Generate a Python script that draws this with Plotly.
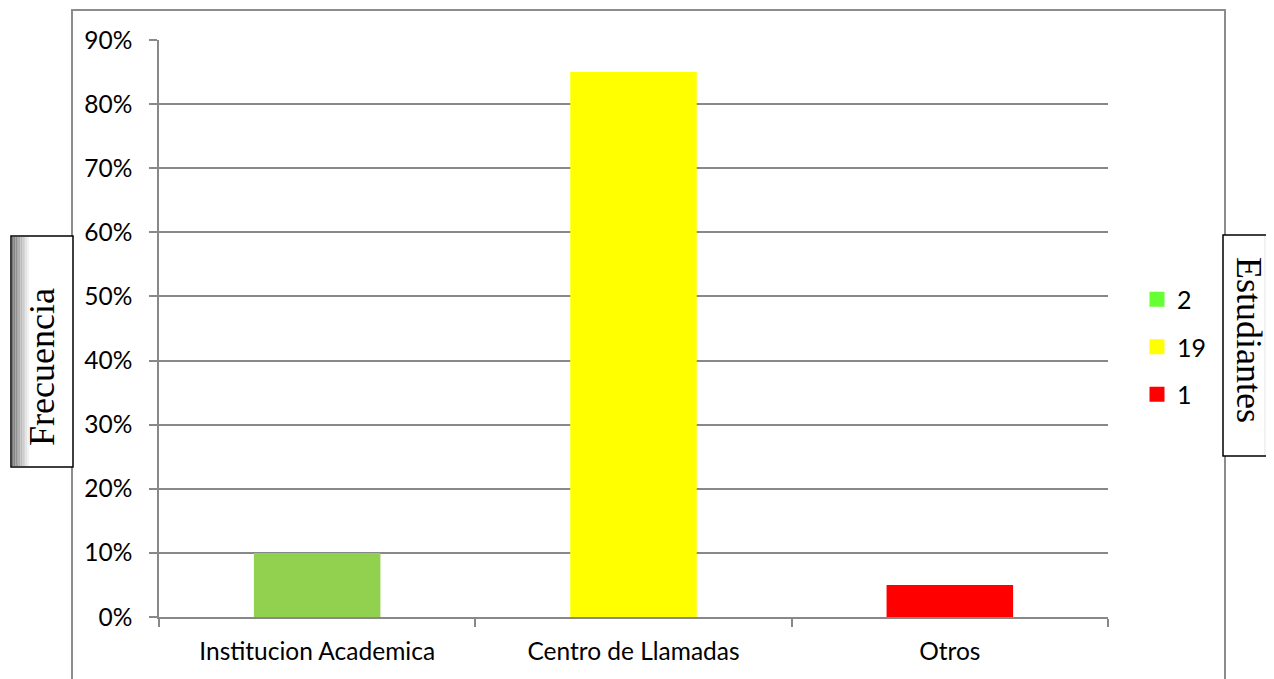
import plotly.graph_objects as go

# Data
categories = ["Institucion Academica", "Centro de Llamadas", "Otros"]
percentages = [0.10, 0.85, 0.05]
counts = ["2", "19", "1"]
bar_colors = ["#92D050", "#FFFF00", "#FF0000"]
legend_colors = ["#66FF33", "#FFFF00", "#FF0000"]

# page body has an 8px margin, so work in screen pixels and shift
OFF = 8
W, H = 1274 - OFF, 679 - OFF
L, R, T, B = 159, 1108, 40, 617


def px(x):
    return (x - L) / (R - L)


def py(y):
    return (B - y) / (B - T)


fig = go.Figure()

for cat, val, col in zip(categories, percentages, bar_colors):
    fig.add_trace(go.Bar(
        x=[cat], y=[val], marker=dict(color=col, line=dict(width=0)),
        width=0.4, showlegend=False, hoverinfo="skip"
    ))

for i, (name, col) in enumerate(zip(counts, legend_colors)):
    fig.add_trace(go.Scatter(
        x=[categories[0]], y=[None], mode="markers", name=name,
        legendgroup=str(i),
        marker=dict(symbol="square", size=15, color=col, line=dict(width=0))
    ))

shapes = []
# outer chart border
shapes.append(dict(type="rect", xref="paper", yref="paper",
                   x0=px(72), x1=px(1225), y0=py(700), y1=py(10),
                   line=dict(color="#8c8c8c", width=2), layer="below"))


def box(x0, x1, y0, y1, shade_left):
    out = []
    out.append(dict(type="rect", xref="paper", yref="paper",
                    x0=px(x0), x1=px(x1), y0=py(y1), y1=py(y0),
                    fillcolor="white", line=dict(width=0), layer="above"))
    steps = 10
    for k in range(steps):
        g = int(120 + (255 - 120) * k / steps)
        c = f"rgb({g},{g},{g})"
        if shade_left:
            a, b = x0 + 1 + k * 1.7, x0 + 1 + (k + 1) * 1.7
        else:
            a, b = x1 - 1 - (k + 1) * 1.7, x1 - 1 - k * 1.7
        out.append(dict(type="rect", xref="paper", yref="paper",
                        x0=px(a), x1=px(b), y0=py(y1 - 1), y1=py(y0 + 1),
                        fillcolor=c, line=dict(width=0), layer="above"))
    out.append(dict(type="rect", xref="paper", yref="paper",
                    x0=px(x0), x1=px(x1), y0=py(y1), y1=py(y0),
                    line=dict(color="black", width=1.5), layer="above"))
    return out


shapes += box(11, 73, 236, 467, True)
shapes += box(1223, 1282, 235, 456, False)

annotations = [
    dict(text="Frecuencia", xref="paper", yref="paper", x=px(42), y=py(367),
         showarrow=False, textangle=-90, xanchor="center", yanchor="middle",
         font=dict(family="Liberation Serif", size=36, color="black")),
    dict(text="Estudiantes", xref="paper", yref="paper", x=px(1249), y=py(340),
         showarrow=False, textangle=90, xanchor="center", yanchor="middle",
         font=dict(family="Liberation Serif", size=36, color="black")),
]

fig.update_layout(
    width=W, height=H,
    margin=dict(l=L - OFF, r=W - (R - OFF), t=T - OFF, b=H - (B - OFF)),
    paper_bgcolor="white", plot_bgcolor="white",
    barmode="overlay",
    font=dict(family="Lato", size=24.5, color="black"),
    shapes=shapes, annotations=annotations,
    legend=dict(x=px(1137), y=py(347), xanchor="left", yanchor="middle",
                font=dict(family="Lato", size=25, color="black"),
                tracegroupgap=12, traceorder="grouped", itemwidth=30,
                bgcolor="rgba(0,0,0,0)"),
    xaxis=dict(showline=True, linecolor="#888888", linewidth=1.5,
               ticks="outside", ticklen=8, tickcolor="#888888", tickwidth=1.5,
               tickson="boundaries", showgrid=False, ticklabelstandoff=12,
               tickfont=dict(family="Lato", size=24.5)),
    yaxis=dict(range=[0, 0.9], dtick=0.1, tickformat=".0%",
               showline=True, linecolor="#888888", linewidth=1.5,
               ticks="outside", ticklen=8, tickcolor="#888888", tickwidth=1.5,
               showgrid=True, gridcolor="#888888", gridwidth=1.5,
               zeroline=False, ticklabelstandoff=12,
               tickfont=dict(family="Lato", size=24.5)),
)

fig.write_html("out.html")
